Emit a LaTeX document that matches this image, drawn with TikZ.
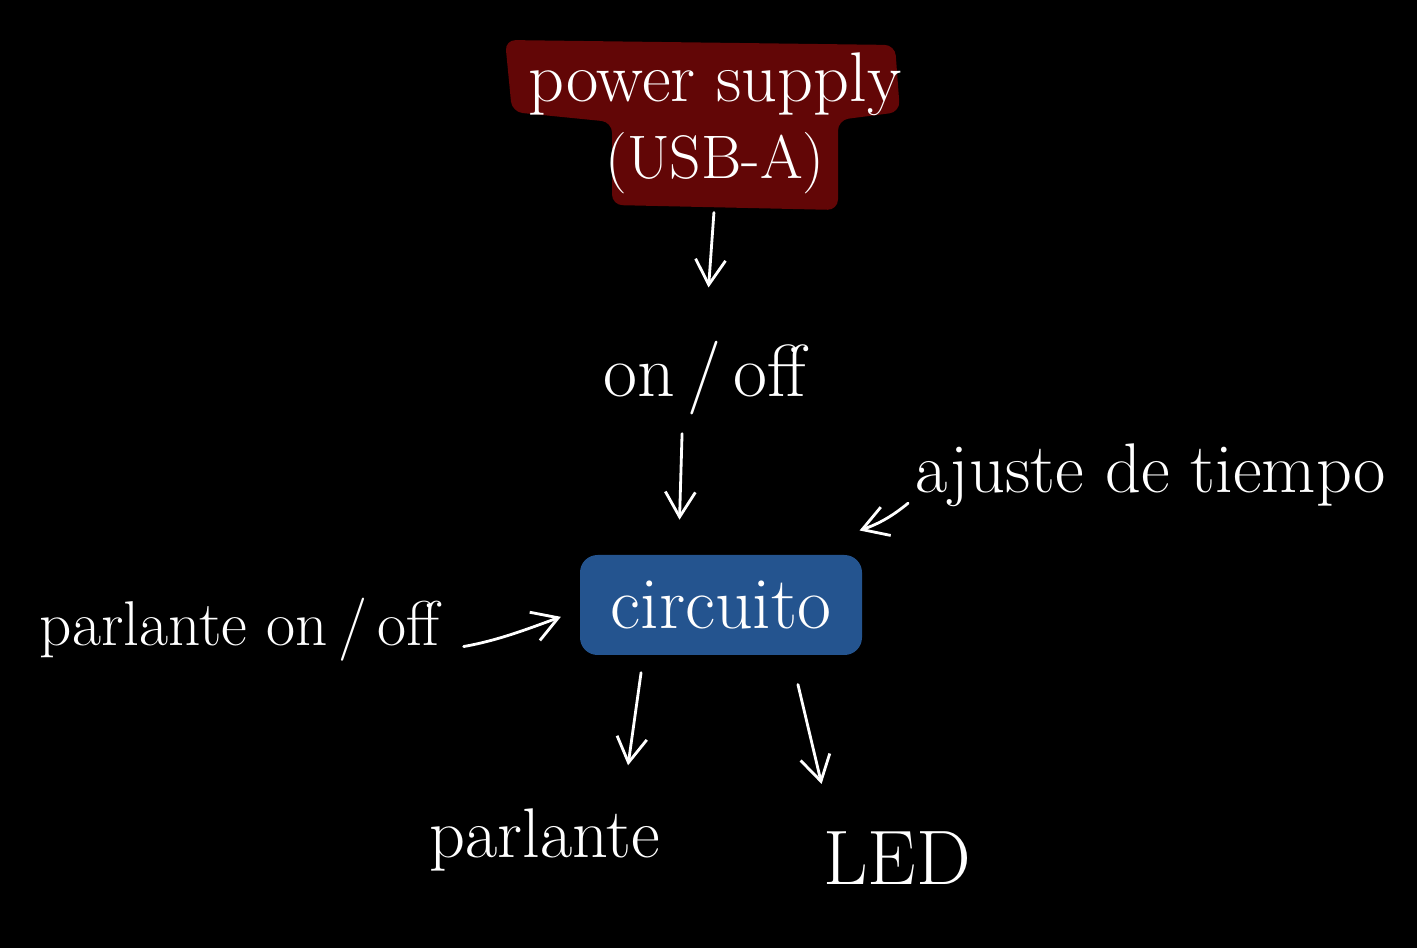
\documentclass[tikz,border=0pt]{standalone}
\usepackage{tikz}
\usetikzlibrary{arrows.meta}

\definecolor{supplyred}{HTML}{620606}
\definecolor{circblue}{HTML}{24548F}

\begin{document}
\begin{tikzpicture}
    \tikzstyle{word} = [text=white,font=\fontsize{38}{46}\selectfont,inner sep=2pt,align=center]
    \tikzstyle{flow} = [draw=white,line width=1.6pt,line cap=round,-{Straight Barb[length=5mm,width=6mm,line width=1.6pt]}]
    \fill[black] (0,0) rectangle (28.34,18.96);
    \useasboundingbox (0,0) rectangle (28.34,18.96);
    % red blob behind the power supply
    \fill[supplyred,rounded corners=6pt] (10.1,18.16) -- (17.9,18.06) -- (18.0,16.72) -- (16.76,16.56) -- (16.76,14.76)
        -- (12.24,14.86) -- (12.24,16.52) -- (10.24,16.72) -- cycle;
    \node (supply)[word,font=\fontsize{40}{44}\selectfont] at (14.3,16.5) {power supply\\{\fontsize{35}{44}\selectfont(USB-A)}};
    \node (onoff)[word,font=\fontsize{42}{46}\selectfont] at (14.1,11.4) {on\,/\,off};
    \node (circuito)[word,fill=circblue,rounded corners=10pt,minimum width=5.64cm,minimum height=2cm,font=\fontsize{42}{50}\selectfont] at (14.42,6.86) {circuito};
    \node (ajuste)[word,font=\fontsize{40}{46}\selectfont] at (23.02,9.46) {ajuste de tiempo};
    \node (parlanteonoff)[word,font=\fontsize{36}{44}\selectfont] at (4.8,6.36) {parlante on\,/\,off};
    \node (parlante)[word,font=\fontsize{40}{46}\selectfont] at (10.9,2.16) {parlante};
    \node (led)[word,font=\fontsize{44}{50}\selectfont] at (17.94,1.8) {LED};
    \draw [flow,shorten <=0.3cm,shorten >=1.0cm] (supply.south) -- (onoff.north);
    \draw [flow,shorten <=0.3cm,shorten >=0.7cm] ([xshift=-0.45cm]onoff.south) -- ([xshift=-0.85cm]circuito.north);
    \draw [flow,shorten <=0.1cm,shorten >=0.1cm] ([yshift=-0.5cm]ajuste.west) to[bend left=10] ([yshift=0.45cm,xshift=-0.15cm]circuito.north east);
    \draw [flow,shorten <=0.4cm,shorten >=0.4cm] ([yshift=-0.4cm]parlanteonoff.east) to[out=10,in=200] ([yshift=-0.1cm]circuito.west);
    \draw [flow,shorten <=0.35cm,shorten >=0.8cm] ([xshift=-1.55cm]circuito.south) -- ([xshift=1.55cm]parlante.north);
    \draw [flow,shorten <=0.6cm,shorten >=0.9cm] ([xshift=1.4cm]circuito.south) -- ([xshift=-1.3cm]led.north);
\end{tikzpicture}
\end{document}
